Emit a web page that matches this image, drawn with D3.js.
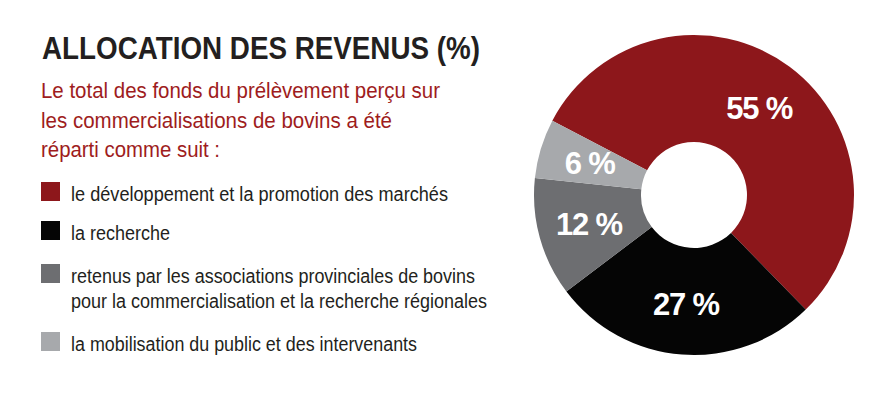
<!DOCTYPE html>
<html>
<head>
  <meta charset="utf-8">
  <script src="https://cdnjs.cloudflare.com/ajax/libs/d3/7.8.5/d3.min.js"></script>
  <style>
    body { margin: 0; background: #fff; }
    svg text { font-family: "Liberation Sans", Arial, sans-serif; }
  </style>
</head>
<body>
  <div id="chart"></div>
  <script>
    var title = "ALLOCATION DES REVENUS (%)";
    var subtitle = [
      "Le total des fonds du prélèvement perçu sur",
      "les commercialisations de bovins a été",
      "réparti comme suit :"
    ];
    var categories = [
      ["le développement et la promotion des marchés"],
      ["la recherche"],
      ["retenus par les associations provinciales de bovins",
       "pour la commercialisation et la recherche régionales"],
      ["la mobilisation du public et des intervenants"]
    ];
    var values = [55, 27, 12, 6];
    var colors = ["#8d171b", "#050505", "#6d6e71", "#a7a9ac"];

    var width = 877, height = 401;
    var svg = d3.select("#chart").append("svg")
      .attr("width", width)
      .attr("height", height);

    // titre + sous-titre
    svg.append("text")
      .attr("x", 42).attr("y", 59)
      .attr("textLength", 438)
      .attr("lengthAdjust", "spacingAndGlyphs")
      .style("font-size", "30.5px")
      .style("font-weight", "bold")
      .style("fill", "#231f20")
      .text(title);

    var subWidths = [399, 351, 179];
    svg.selectAll(".sub")
      .data(subtitle)
      .enter().append("text")
      .attr("class", "sub")
      .attr("x", 41)
      .attr("y", (d, i) => 98 + i * 29.5)
      .attr("textLength", (d, i) => subWidths[i])
      .attr("lengthAdjust", "spacingAndGlyphs")
      .style("font-size", "22px")
      .style("fill", "#9e1c20")
      .text(d => d);

    // légende
    var color = d3.scaleOrdinal().domain(d3.range(values.length)).range(colors);
    var legendY = [182, 221, 264, 332];
    var legendW = [[377], [99], [404, 416], [346]];

    var leg = svg.selectAll(".leg")
      .data(categories)
      .enter().append("g")
      .attr("class", "leg")
      .attr("transform", (d, i) => "translate(41," + legendY[i] + ")");

    leg.append("rect")
      .attr("width", 19).attr("height", 19)
      .attr("fill", (d, i) => color(i));

    leg.each(function(lines, i) {
      d3.select(this).selectAll("text")
        .data(lines)
        .enter().append("text")
        .attr("x", 30)
        .attr("y", (d, j) => 18.5 + j * 25)
        .attr("textLength", (d, j) => legendW[i][j])
        .attr("lengthAdjust", "spacingAndGlyphs")
        .style("font-size", "19.5px")
        .style("fill", "#231f20")
        .text(d => d);
    });

    // anneau
    var cx = 694, cy = 195, outerR = 160, innerR = 53;
    var start = -62.3 * Math.PI / 180;

    var pie = d3.pie()
      .value(d => d)
      .sort(null)
      .startAngle(start)
      .endAngle(start + 2 * Math.PI);

    var arc = d3.arc().innerRadius(innerR).outerRadius(outerR);
    var labelArc = d3.arc().innerRadius(109).outerRadius(109);

    var g = svg.append("g").attr("transform", "translate(" + cx + "," + cy + ")");

    var slices = pie(values);

    g.selectAll("path")
      .data(slices)
      .enter().append("path")
      .attr("d", arc)
      .attr("fill", (d, i) => color(i));

    g.selectAll(".pct")
      .data(slices)
      .enter().append("text")
      .attr("class", "pct")
      .attr("transform", d => "translate(" + labelArc.centroid(d) + ")")
      .attr("dy", "0.36em")
      .attr("text-anchor", "middle")
      .style("font-size", "31px")
      .style("font-weight", "bold")
      .style("letter-spacing", "-1.2px")
      .style("fill", "#fff")
      .text(d => d.data + " %");
  </script>
</body>
</html>
